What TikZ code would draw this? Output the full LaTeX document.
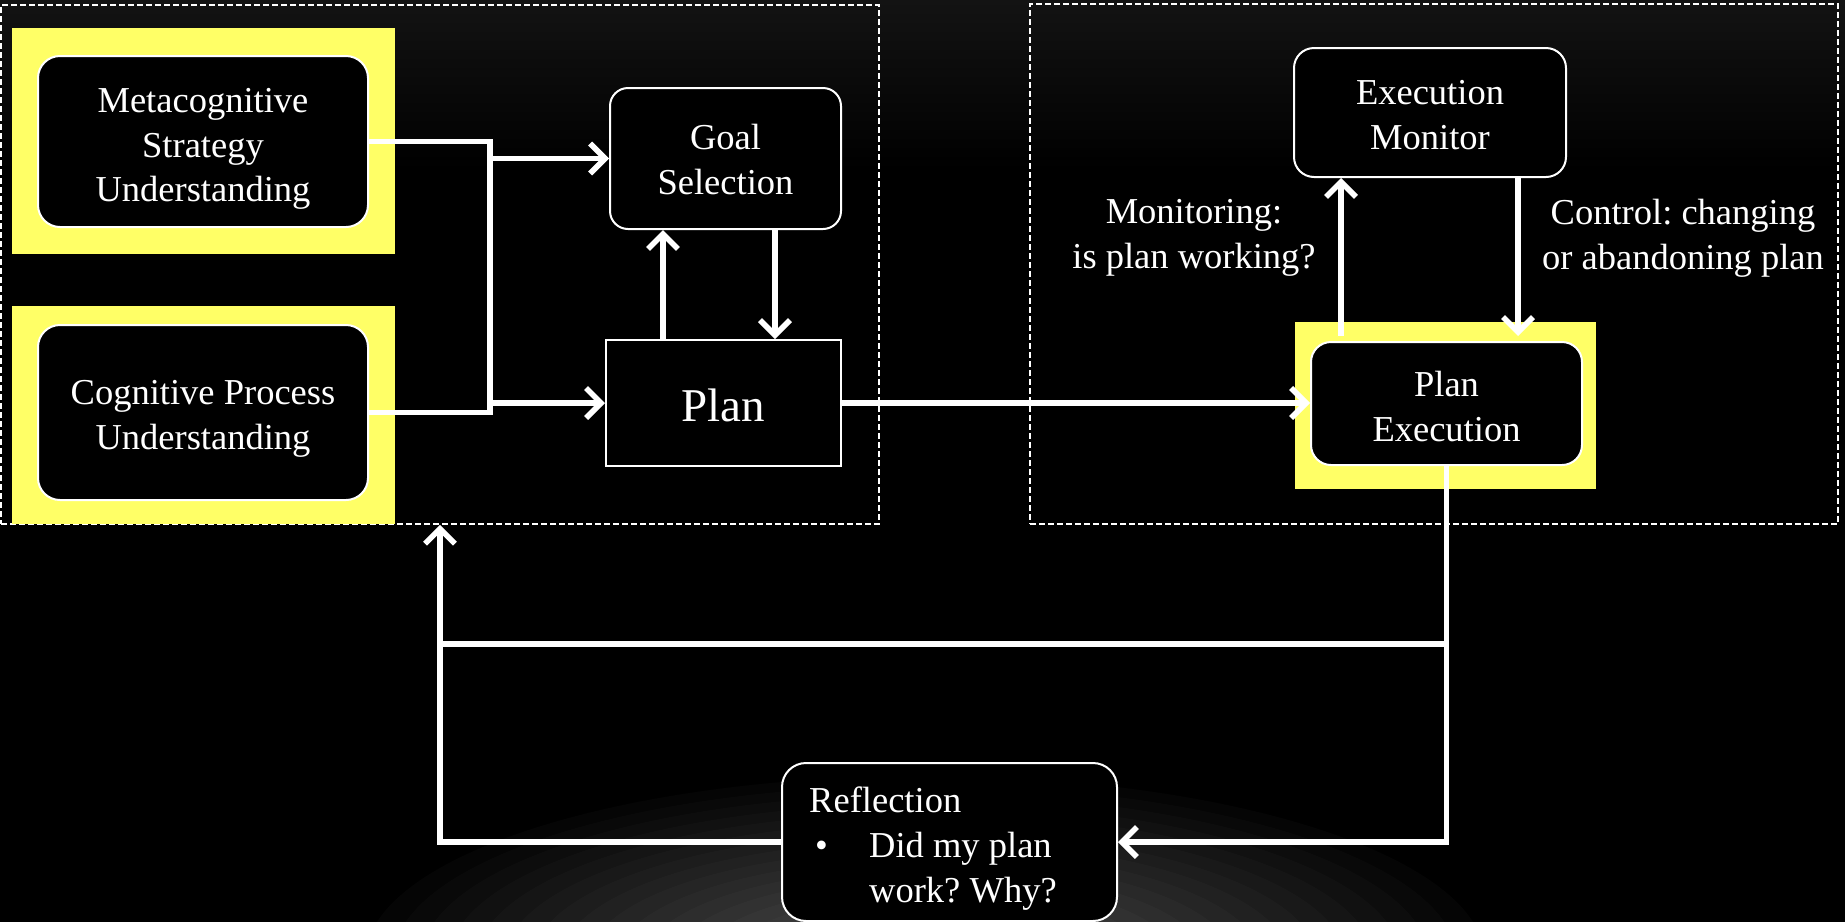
\documentclass[tikz,border=0pt]{standalone}
\usepackage{fontspec}
\setmainfont{Liberation Serif}
\usetikzlibrary{arrows.meta,calc}
\definecolor{hl}{RGB}{255,255,102}
\definecolor{topgray}{RGB}{19,19,19}
\frenchspacing
\begin{document}
\begin{tikzpicture}[x=1pt,y=-1pt,
  box/.style={draw=white,line width=2pt,fill=black,text=white,rounded corners=22pt,align=center,font=\fontsize{36.5}{44.5}\selectfont,inner sep=0pt},
  conn/.style={draw=white,line width=5.5pt},
  arr/.style={conn,-{Straight Barb[length=15pt,width=30pt]}},
  lbl/.style={text=white,align=center,font=\fontsize{36.5}{45}\selectfont},
  boxtext/.style={lbl,inner sep=0pt,font=\fontsize{36.5}{44.5}\selectfont},
  dashframe/.style={draw=white,line width=1.5pt,dash pattern=on 6pt off 3pt,inner sep=0pt}]
% background
\useasboundingbox (0,0) rectangle (1845,922);
\fill[black] (0,0) rectangle (1845,922);
\shade[top color=topgray,bottom color=black] (0,0) rectangle (1845,170);
\begin{scope}
  \clip (0,0) rectangle (1845,922);
  \foreach \k in {1,...,20} {
    \fill[white,fill opacity=0.019] (925,960) ellipse [x radius=\k*28pt, y radius=\k*9.2pt];
  }
\end{scope}
% group frames
\node[dashframe,minimum width=878pt,minimum height=519pt] (grpL) at (440,264.5) {};
\node[dashframe,minimum width=808pt,minimum height=520pt] (grpR) at (1434,264) {};
% highlight backgrounds
\fill[hl] (12,28) rectangle (395,254);
\fill[hl] (12,306) rectangle (395,524);
\fill[hl] (1295,322) rectangle (1596,489);
% boxes
\node[box,minimum width=330pt,minimum height=171pt] (meta) at (203,141.5) {};
\node[boxtext] (metat) at (203,149) {Metacognitive\\Strategy\\Understanding};
\node[box,minimum width=330pt,minimum height=175pt] (cog) at (203,412.5) {};
\node[boxtext] (cogt) at (203,419) {Cognitive Process\\Understanding};
\node[box,rounded corners=18pt,minimum width=231pt,minimum height=141pt] (goal) at (725.5,158.5) {};
\node[boxtext] (goalt) at (725.5,159.5) {Goal\\Selection};
\node[box,sharp corners,minimum width=235pt,minimum height=126pt] (plan) at (723.5,403) {};
\node[boxtext,font=\fontsize{47}{55}\selectfont] (plant) at (723.5,405.5) {Plan};
\node[box,rounded corners=20pt,minimum width=272pt,minimum height=129pt] (mon) at (1430,112.5) {};
\node[boxtext] (mont) at (1430,115) {Execution\\Monitor};
\node[box,rounded corners=20pt,minimum width=271pt,minimum height=123pt] (pexec) at (1446.5,403.5) {};
\node[boxtext] (pexect) at (1446.5,406.5) {Plan\\Execution};
\node[box,rounded corners=24pt,minimum width=335pt,minimum height=158pt] (refl) at (949.5,842) {};
% reflection text
\node[lbl,anchor=base west,inner sep=0pt] (rt) at (809,812) {Reflection};
\node[lbl,anchor=base west,inner sep=0pt] (rb) at (815,857) {\textbullet};
\node[lbl,anchor=base west,inner sep=0pt] (r1) at (869,857) {Did my plan};
\node[lbl,anchor=base west,inner sep=0pt] (r2) at (869,902) {work? Why?};
% labels
\node[lbl] (monlab) at (1194,238) {Monitoring:\\is plan working?};
\node[lbl] (ctllab) at (1683,238) {Control: changing\\or abandoning plan};
% connectors
\coordinate (j1) at (490,0);
\draw[conn] (meta.east) -- (meta.east -| j1) -- (cog.east -| j1) -- (cog.east);
\draw[arr] (goal.west -| j1) -- (goal.west);
\draw[arr] (plan.west -| j1) -- (plan.west);
\coordinate (u1) at (663,0);
\coordinate (d1) at (775,0);
\draw[arr] (plan.north -| u1) -- (goal.south -| u1);
\draw[arr] (goal.south -| d1) -- (plan.north -| d1);
\draw[arr] (plan.east) -- (plan.east -| pexec.west);
\coordinate (m1) at (1341,336);
\coordinate (c1) at (1518,336);
\draw[arr] (m1) -- (mon.south -| m1);
\draw[arr] (mon.south -| c1) -- (c1);
\coordinate (mid) at (0,644);
\draw[arr] (pexec.south) |- (refl.east);
\draw[arr] (refl.west) -| (grpL.south);
\draw[conn] (grpL.south |- mid) -- (pexec.south |- mid);
\end{tikzpicture}
\end{document}
